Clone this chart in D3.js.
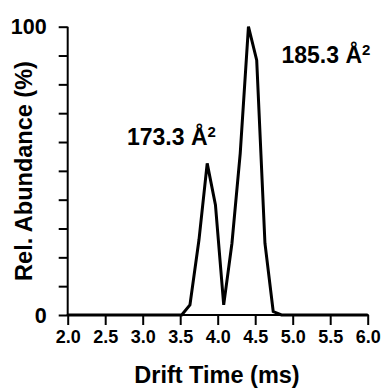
<!DOCTYPE html>
<html>
<head>
<meta charset="utf-8">
<script src="https://cdn.jsdelivr.net/npm/d3@7"></script>
<style>
  body { margin: 0; background: #fff; }
  svg text { font-family: Arial, "Liberation Sans", sans-serif; font-weight: bold; fill: #000; }
</style>
</head>
<body>
<div id="chart"></div>
<script>
// ......................
// Data
var driftTime = [2.0, 3.52, 3.63, 3.75, 3.86, 3.97, 4.08, 4.19, 4.30, 4.41, 4.52, 4.63, 4.74, 4.85, 6.0];
var abundance = [0, 0, 3.5, 26, 52.6, 38.2, 3.5, 24.9, 56, 100, 88.4, 24.9, 1.2, 0, 0];

var xTicks = [2.0, 2.5, 3.0, 3.5, 4.0, 4.5, 5.0, 5.5, 6.0];
var yTicks = [0, 10, 20, 30, 40, 50, 60, 70, 80, 90, 100];

var peakLabels = ["173.3 Å", "185.3 Å"];

// ......................
// Setting up SVG area
var svgWidth = 383;
var svgHeight = 388;

var svg = d3.select("#chart")
    .append("svg")
    .attr("width", svgWidth)
    .attr("height", svgHeight);

var xScale = d3.scaleLinear()
    .domain([2, 6])
    .range([67.7, 367.7]);

var yScale = d3.scaleLinear()
    .domain([0, 100])
    .range([315, 26.7]);

// ......................
// Axes
var xAxis = d3.axisBottom(xScale)
    .tickValues(xTicks)
    .tickSize(10)
    .tickSizeOuter(0)
    .tickPadding(5)
    .tickFormat(d3.format(".1f"));

var yAxis = d3.axisLeft(yScale)
    .tickValues(yTicks)
    .tickSize(9)
    .tickSizeOuter(0)
    .tickPadding(12)
    .tickFormat((d) => (d === 0 || d === 100) ? d : "");

var gx = svg.append("g")
    .attr("class", "xAxis")
    .attr("transform", `translate(0, ${yScale(0)})`)
    .call(xAxis);

var gy = svg.append("g")
    .attr("class", "yAxis")
    .attr("transform", `translate(${xScale(2)}, 0)`)
    .call(yAxis);

[gx, gy].forEach((g) => {
    g.select(".domain").attr("stroke", "#000").attr("stroke-width", 2);
    g.selectAll(".tick line").attr("stroke", "#000").attr("stroke-width", 2);
});

gx.selectAll(".tick text")
    .style("font-size", "18px");

gy.selectAll(".tick text")
    .style("font-size", "21.5px")
    .attr("dy", "0.33em");

// extend x axis line over the y axis stroke
gx.select(".domain").attr("d", `M${xScale(2) - 1},0H${xScale(6) + 1}`);
gy.select(".domain").attr("d", `M0,${yScale(100)}V${yScale(0) + 1}`);

// ......................
// Axis titles
svg.append("text")
    .attr("x", 217)
    .attr("y", 383)
    .attr("text-anchor", "middle")
    .style("font-size", "23.5px")
    .text("Drift Time (ms)");

svg.append("text")
    .attr("transform", `translate(31.5, 171) rotate(-90)`)
    .attr("text-anchor", "middle")
    .style("font-size", "23.5px")
    .text("Rel. Abundance (%)");

// ......................
// Trace
var points = driftTime.map((t, i) => [t, abundance[i]]);

var line = d3.line()
    .x((d) => xScale(d[0]))
    .y((d) => yScale(d[1]));

svg.append("path")
    .datum(points)
    .attr("fill", "none")
    .attr("stroke", "#000")
    .attr("stroke-width", 3)
    .attr("stroke-linejoin", "miter")
    .attr("d", line);

// ......................
// Peak labels (CCS)
var labelPos = [[127, 145], [281.5, 63.3]];

peakLabels.forEach((lab, i) => {
    var t = svg.append("text")
        .attr("x", labelPos[i][0])
        .attr("y", labelPos[i][1])
        .style("font-size", "23px");
    t.append("tspan").text(lab);
    t.append("tspan")
        .attr("dy", -8)
        .style("font-size", "15px")
        .text("2");
});
</script>
</body>
</html>
